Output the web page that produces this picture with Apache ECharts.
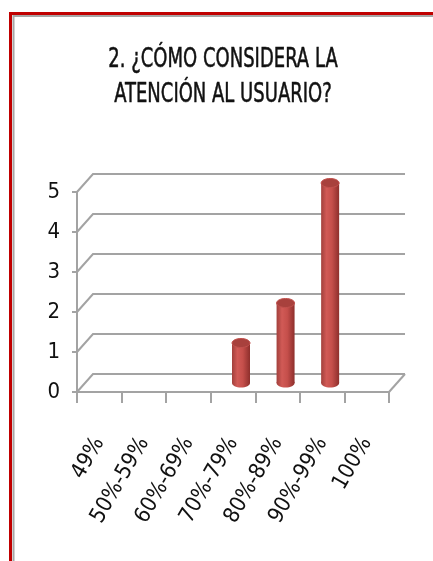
<!DOCTYPE html>
<html>
<head>
<meta charset="utf-8">
<script src="https://cdn.jsdelivr.net/npm/echarts@6/dist/echarts.min.js"></script>
<style>
  html, body { margin: 0; padding: 0; background: #fff; }
  #chart { width: 433px; height: 561px; }
</style>
</head>
<body>
<div id="chart"></div>
<script>
// Survey question 2: rating of user service, count of answers per range
const categories = ['49%', '50%-59%', '60%-69%', '70%-79%', '80%-89%', '90%-99%', '100%'];
const counts = [0, 0, 0, 1, 2, 5, 0];
const yTicks = [0, 1, 2, 3, 4, 5];
const titleLines = ['2. ¿CÓMO CONSIDERA LA', 'ATENCIÓN AL USUARIO?'];

// depth of the pseudo-3D box (back wall offset)
const DX = 16, DY = 18;
const FONT = '"Liberation Sans Narrow", "DejaVu Sans Condensed", sans-serif';
const GRID_COLOR = '#a3a3a3';

const chart = echarts.init(document.getElementById('chart'), null, { renderer: 'canvas' });

// back-wall gridlines with the diagonal edges joining them to the front axis
function renderWall(params, api) {
  const cs = params.coordSys;
  const v = api.value(1);
  const y = api.coord([0, v])[1];
  const x0 = cs.x;
  const pts = [[x0, y], [x0 + DX, y - DY], [x0 + cs.width + DX, y - DY]];
  const children = [{
    type: 'polyline',
    shape: { points: pts },
    style: { stroke: GRID_COLOR, lineWidth: 2, fill: null }
  }];
  if (v === 0) {
    children.push({
      type: 'line',
      shape: { x1: x0 + cs.width, y1: y, x2: x0 + cs.width + DX, y2: y - DY },
      style: { stroke: GRID_COLOR, lineWidth: 2 }
    });
  }
  return { type: 'group', children: children };
}

// cylinder standing in the middle of the box depth
function renderCylinder(params, api) {
  const v = api.value(1);
  if (!v) return null;
  const idx = api.value(0);
  const top = api.coord([idx, v]);
  const base = api.coord([idx, 0]);
  const cx = top[0] + DX / 2;
  const yTop = top[1] - DY / 2;
  const yBase = base[1] - DY / 2;
  const rx = 9, ry = 4.5;
  const bodyFill = new echarts.graphic.LinearGradient(0, 0, 1, 0, [
    { offset: 0, color: '#a2403c' },
    { offset: 0.3, color: '#d15a56' },
    { offset: 0.6, color: '#c54f4b' },
    { offset: 1, color: '#8e2f2c' }
  ]);
  return {
    type: 'group',
    children: [
      { type: 'ellipse', shape: { cx: cx, cy: yBase, rx: rx, ry: ry }, style: { fill: bodyFill } },
      { type: 'rect', shape: { x: cx - rx, y: yTop, width: rx * 2, height: yBase - yTop }, style: { fill: bodyFill } },
      { type: 'ellipse', shape: { cx: cx, cy: yTop, rx: rx, ry: ry },
        style: { fill: '#a8413d', stroke: '#c2524e', lineWidth: 1 } }
    ]
  };
}

// condensed heading lines, centred over the plot
const titleGraphics = titleLines.map(function (line, i) {
  return {
    type: 'text',
    x: 223,
    y: 60 + i * 35,
    scaleX: 0.77,
    silent: true,
    style: {
      text: line,
      fontFamily: FONT,
      fontSize: 26,
      fontWeight: 'normal',
      fill: '#111',
      stroke: '#111',
      lineWidth: 0.5,
      textAlign: 'center',
      textVerticalAlign: 'middle',
      verticalAlign: 'middle'
    }
  };
});

chart.setOption({
  animation: false,
  backgroundColor: '#ffffff',
  graphic: [
    { type: 'rect', shape: { x: 10.5, y: 13.5, width: 600, height: 700 },
      style: { fill: null, stroke: '#c00000', lineWidth: 3 }, silent: true },
    { type: 'rect', shape: { x: 13.5, y: 16, width: 600, height: 700 },
      style: { fill: null, stroke: '#a6a6a6', lineWidth: 2 }, silent: true }
  ].concat(titleGraphics),
  grid: { left: 77, top: 192, width: 312, height: 200, containLabel: false },
  xAxis: {
    type: 'category',
    data: categories,
    boundaryGap: true,
    axisLine: { show: true, lineStyle: { color: GRID_COLOR, width: 2 } },
    axisTick: { show: true, length: 11, lineStyle: { color: GRID_COLOR, width: 2 } },
    axisLabel: { rotate: 60, margin: 47, interval: 0, fontFamily: FONT, fontSize: 22, color: '#111' },
    splitLine: { show: false }
  },
  yAxis: {
    type: 'value',
    min: 0, max: 5, interval: 1,
    axisLine: { show: true, lineStyle: { color: GRID_COLOR, width: 2 } },
    axisTick: { show: true, length: 5, lineStyle: { color: GRID_COLOR, width: 2 } },
    axisLabel: { margin: 17, fontFamily: FONT, fontSize: 22, color: '#111' },
    splitLine: { show: false }
  },
  series: [
    {
      type: 'custom',
      name: 'wall',
      renderItem: renderWall,
      data: yTicks.map(function (t) { return [0, t]; }),
      clip: false,
      silent: true,
      z: 1
    },
    {
      type: 'custom',
      name: 'Respuestas',
      renderItem: renderCylinder,
      data: counts.map(function (c, i) { return [i, c]; }),
      clip: false,
      z: 3
    }
  ]
});
</script>
</body>
</html>
